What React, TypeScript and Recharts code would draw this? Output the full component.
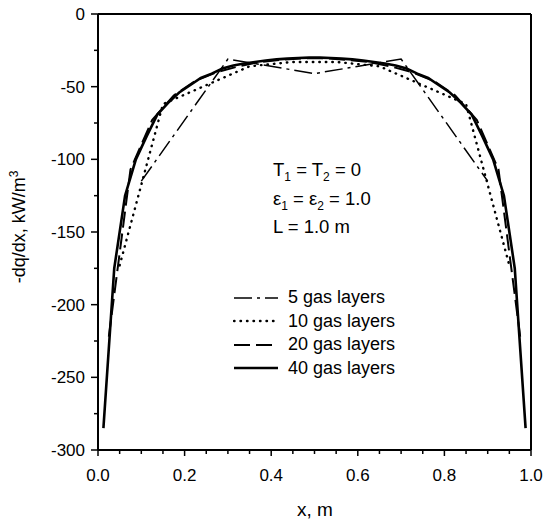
import { Line, LineChart, ReferenceLine, XAxis, YAxis } from "recharts";

// layer-centre positions (m) and -dq/dx values (kW/m3)
const x5 = [0.1, 0.3, 0.5, 0.7, 0.9];
const q5 = [-115, -31, -41, -31, -115];

const x10 = [0.05, 0.15, 0.25, 0.35, 0.45, 0.55, 0.65, 0.75, 0.85, 0.95];
const q10 = [-173, -62, -49, -36, -33, -33, -36, -49, -62, -173];

const x20 = [
  0.025, 0.075, 0.125, 0.175, 0.225, 0.275, 0.325, 0.375, 0.425, 0.475,
  0.525, 0.575, 0.625, 0.675, 0.725, 0.775, 0.825, 0.875, 0.925, 0.975,
];
const q20 = [
  -222, -107, -73, -56, -46, -40, -36, -33, -31.5, -30.5,
  -30.5, -31.5, -33, -36, -40, -46, -56, -73, -107, -222,
];

const x40 = [
  0.0125, 0.0375, 0.0625, 0.0875, 0.1125, 0.1375, 0.1625, 0.1875, 0.2125, 0.2375,
  0.2625, 0.2875, 0.3125, 0.3375, 0.3625, 0.3875, 0.4125, 0.4375, 0.4625, 0.4875,
  0.5125, 0.5375, 0.5625, 0.5875, 0.6125, 0.6375, 0.6625, 0.6875, 0.7125, 0.7375,
  0.7625, 0.7875, 0.8125, 0.8375, 0.8625, 0.8875, 0.9125, 0.9375, 0.9625, 0.9875,
];
const q40 = [
  -285, -175, -125, -100, -84, -69, -61, -54, -49, -44,
  -41, -37.5, -35.5, -34, -33, -32, -31.2, -30.7, -30.3, -30,
  -30, -30.3, -30.7, -31.2, -32, -33, -34, -35.5, -37.5, -41,
  -44, -49, -54, -61, -69, -84, -100, -125, -175, -285,
];

const xTicks = [
  0, 0.05, 0.1, 0.15, 0.2, 0.25, 0.3, 0.35, 0.4, 0.45, 0.5,
  0.55, 0.6, 0.65, 0.7, 0.75, 0.8, 0.85, 0.9, 0.95, 1,
];
const xLabels = [0, 0.2, 0.4, 0.6, 0.8, 1];
const yTicks = [
  -300, -275, -250, -225, -200, -175, -150, -125, -100, -75, -50, -25, 0,
];
const yLabels = [-300, -250, -200, -150, -100, -50, 0];

const FONT = "'Liberation Sans', Arial, sans-serif";

const series = [
  { name: "5 gas layers", xs: x5, qs: q5, dash: "18 5 3 5", width: 1.5, cap: "butt" },
  { name: "10 gas layers", xs: x10, qs: q10, dash: "0.5 6", width: 2.4, cap: "round" },
  { name: "20 gas layers", xs: x20, qs: q20, dash: "16 6", width: 2, cap: "butt" },
  { name: "40 gas layers", xs: x40, qs: q40, dash: undefined, width: 2.6, cap: "butt" },
];

const isLabel = (list: number[], v: number) => list.some((t) => Math.abs(t - v) < 1e-6);

const subStyle = { fontSize: 12, verticalAlign: "baseline", position: "relative" as const, top: 5 };

function XTick({ x, y, payload }: any) {
  const major = isLabel(xLabels, payload.value);
  return (
    <g>
      <line x1={x} x2={x} y1={y} y2={y + (major ? 6 : 4)} stroke="#000" strokeWidth={1.5} />
      {major && (
        <text x={x} y={y + 31} textAnchor="middle" fontSize={17} fontFamily={FONT} fill="#000">
          {payload.value.toFixed(1)}
        </text>
      )}
    </g>
  );
}

function YTick({ x, y, payload }: any) {
  const major = isLabel(yLabels, payload.value);
  return (
    <g>
      <line x1={x - (major ? 7 : 4)} x2={x} y1={y} y2={y} stroke="#000" strokeWidth={1.5} />
      {major && (
        <text x={x - 13} y={y} dy="0.35em" textAnchor="end" fontSize={17} fontFamily={FONT} fill="#000">
          {payload.value}
        </text>
      )}
    </g>
  );
}

function Note({ top, children }: { top: number; children: React.ReactNode }) {
  return (
    <div
      style={{
        position: "absolute",
        left: 273,
        top: top - 11,
        height: 22,
        lineHeight: "22px",
        fontSize: 18.5,
        whiteSpace: "nowrap",
      }}
    >
      {children}
    </div>
  );
}

export default function App() {
  return (
    <div
      style={{
        position: "absolute",
        left: 0,
        top: 0,
        width: 543,
        height: 525,
        background: "#fff",
        fontFamily: FONT,
        color: "#000",
      }}
    >
      <LineChart width={543} height={525} margin={{ top: 14, right: 12, bottom: 0, left: 0 }}>
        <XAxis
          type="number"
          dataKey="x"
          domain={[0, 1]}
          ticks={xTicks}
          interval={0}
          height={75}
          tickSize={0}
          tickMargin={0}
          tickLine={false}
          axisLine={{ stroke: "#000", strokeWidth: 2 }}
          tick={<XTick />}
          allowDataOverflow
        />
        <YAxis
          type="number"
          domain={[-300, 0]}
          ticks={yTicks}
          interval={0}
          width={98}
          tickSize={0}
          tickMargin={0}
          tickLine={false}
          axisLine={{ stroke: "#000", strokeWidth: 2 }}
          tick={<YTick />}
          allowDataOverflow
        />
        <ReferenceLine y={0} stroke="#000" strokeWidth={2} />
        <ReferenceLine x={1} stroke="#000" strokeWidth={2} />
        {series.map((s) => (
          <Line
            key={s.name}
            data={s.xs.map((x, i) => ({ x, q: s.qs[i] }))}
            dataKey="q"
            type="linear"
            stroke="#000"
            strokeWidth={s.width}
            strokeDasharray={s.dash}
            strokeLinecap={s.cap as any}
            dot={false}
            activeDot={false}
            isAnimationActive={false}
          />
        ))}
      </LineChart>

      <div
        style={{
          position: "absolute",
          left: 18,
          top: 227,
          transform: "translate(-50%, -50%) rotate(-90deg)",
          whiteSpace: "nowrap",
          fontSize: 18,
        }}
      >
        -dq/dx, kW/m<sup style={{ fontSize: 12 }}>3</sup>
      </div>
      <div
        style={{
          position: "absolute",
          left: 315,
          top: 510,
          transform: "translate(-50%, -50%)",
          whiteSpace: "nowrap",
          fontSize: 19,
        }}
      >
        x, m
      </div>

      <Note top={170}>
        T<sub style={subStyle}>1</sub> = T<sub style={subStyle}>2</sub> = 0
      </Note>
      <Note top={199}>
        ε<sub style={subStyle}>1</sub> = ε<sub style={subStyle}>2</sub> = 1.0
      </Note>
      <Note top={227}>L = 1.0 m</Note>

      <div style={{ position: "absolute", left: 233, top: 286, fontSize: 18, whiteSpace: "nowrap" }}>
        {series.map((s) => (
          <div key={s.name} style={{ display: "flex", alignItems: "center", height: 23.5 }}>
            <svg width={46} height={10} style={{ marginRight: 9 }}>
              <line
                x1={1}
                x2={45}
                y1={5}
                y2={5}
                stroke="#000"
                strokeWidth={s.width}
                strokeDasharray={s.dash}
                strokeLinecap={s.cap as any}
              />
            </svg>
            <span>{s.name}</span>
          </div>
        ))}
      </div>
    </div>
  );
}
